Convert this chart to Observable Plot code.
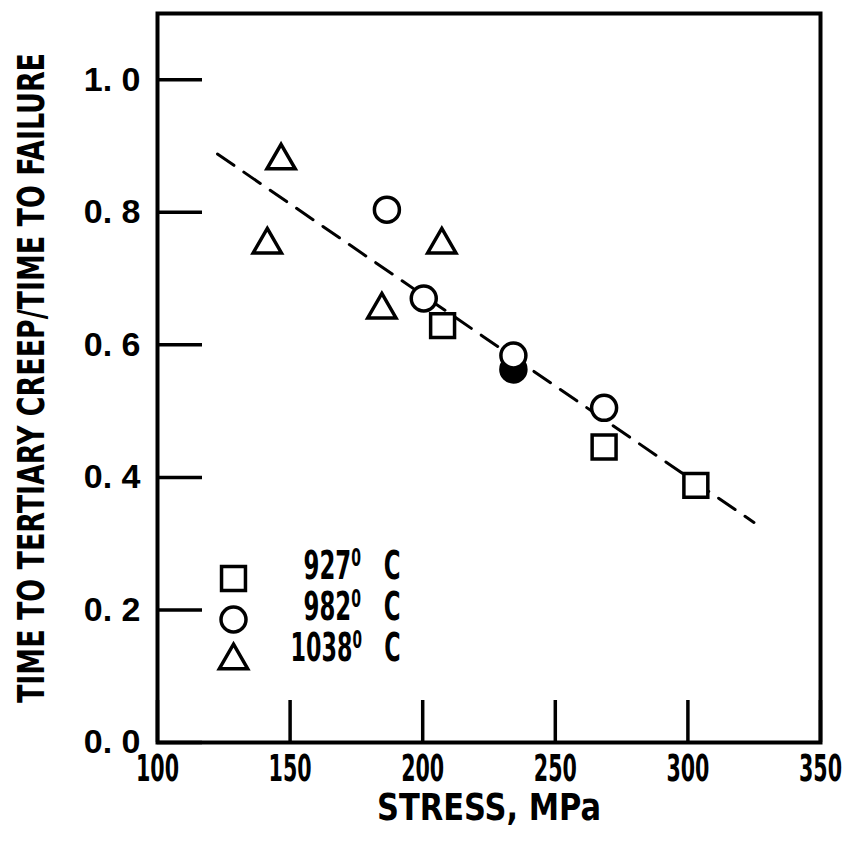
<!DOCTYPE html>
<html>
<head>
<meta charset="utf-8">
<script src="https://cdn.jsdelivr.net/npm/d3@7"></script>
<script src="https://cdn.jsdelivr.net/npm/@observablehq/plot@0.6"></script>
<style>
  html, body { margin: 0; padding: 0; background: #fff; overflow: hidden; }
</style>
</head>
<body>
<div id="chart"></div>
<script>
// ---- data ----
const xTicks = [100, 150, 200, 250, 300, 350];
const yTicks = [0, 0.2, 0.4, 0.6, 0.8, 1.0];
const xTitle = "STRESS, MPa";
const yTitle = "TIME TO TERTIARY CREEP/TIME TO FAILURE";

// 927 C (squares)
const stress927 = [207.5, 268.4, 303.0];
const ratio927  = [0.629, 0.446, 0.388];
// 982 C (circles)
const stress982 = [186.5, 200.4, 234.2, 268.4];
const ratio982  = [0.804, 0.670, 0.584, 0.505];
// 982 C overlapping (dark) circle
const stress982b = [234.2];
const ratio982b  = [0.563];
// 1038 C (triangles)
const stress1038 = [141.4, 146.6, 184.6, 207.2];
const ratio1038  = [0.751, 0.878, 0.653, 0.751];
// dashed trend line end points
const fitStress = [122.6, 324.9];
const fitRatio  = [0.888, 0.332];

const legendTemps   = ["927", "982", "1038"];
const legendLabels  = legendTemps.map(t => t + "\u2070\u2003C");
const legendSymbols = ["square", "circle", "triangle"];

// ---- build rows ----
const rows = (xs, ys) => xs.map((x, i) => ({stress: x, ratio: ys[i]}));

const FONT = "'Liberation Sans Narrow', 'DejaVu Sans Condensed', 'Liberation Sans', sans-serif";
const symR = {square: 13.5, circle: 12.5, triangle: 10.5};
const SW = 3.5;

const legendMarks = [];
legendLabels.forEach((lab, i) => {
  legendMarks.push(Plot.dot([lab], {
    frameAnchor: "bottom-left", dx: 76, dy: -164 + 41 * i,
    symbol: legendSymbols[i], r: symR[legendSymbols[i]],
    stroke: "black", strokeWidth: SW, fill: "none"
  }));
  legendMarks.push(Plot.text([lab], {
    frameAnchor: "bottom-left", dx: 243, dy: -164 + 41 * i,
    textAnchor: "end", fontSize: 39, fontWeight: "bold", fontFamily: FONT,
    fill: "black"
  }));
});

const svg = Plot.plot({
  width: 844,
  height: 842,
  marginLeft: 157,
  marginRight: 24,
  marginTop: 13,
  marginBottom: 100,
  style: {background: "white", color: "black", fontFamily: FONT},
  x: {domain: [100, 350]},
  y: {domain: [0, 1.1]},
  marks: [
    // inward tick marks
    Plot.tickX(xTicks, {x: d => d, stroke: "black", strokeWidth: SW, insetTop: 729 - 42}),
    Plot.tickY(yTicks, {y: d => d, stroke: "black", strokeWidth: SW, insetRight: 663 - 45}),
    // tick labels
    Plot.axisX(xTicks, {tickSize: 0, tickPadding: 12, fontSize: 37, fontWeight: "bold",
      fontFamily: FONT, label: null, fill: "black"}),
    Plot.axisY(yTicks, {tickSize: 0, tickPadding: 17, fontSize: 34, fontWeight: "bold",
      fontFamily: "'Liberation Sans', Arial, sans-serif", label: null, fill: "black",
      tickFormat: d => d.toFixed(1).replace(".", ". ")}),
    // axis titles
    Plot.text([xTitle], {frameAnchor: "bottom", dy: 77, fontSize: 37, fontWeight: "bold",
      fontFamily: FONT, fill: "black"}),
    Plot.text([yTitle], {frameAnchor: "left", dx: -126, dy: 325, rotate: -90, textAnchor: "start",
      fontSize: 38, fontWeight: "bold", fontFamily: FONT, fill: "black"}),
    // trend line
    Plot.line(rows(fitStress, fitRatio), {x: "stress", y: "ratio", stroke: "black",
      strokeWidth: 3, strokeDasharray: "20,12"}),
    // data
    Plot.dot(rows(stress1038, ratio1038), {x: "stress", y: "ratio", symbol: "triangle",
      r: symR.triangle, stroke: "black", strokeWidth: SW, fill: "white"}),
    Plot.dot(rows(stress927, ratio927), {x: "stress", y: "ratio", symbol: "square",
      r: symR.square, stroke: "black", strokeWidth: SW, fill: "white"}),
    Plot.dot(rows(stress982b, ratio982b), {x: "stress", y: "ratio", symbol: "circle",
      r: symR.circle, stroke: "black", strokeWidth: SW, fill: "black"}),
    Plot.dot(rows(stress982, ratio982), {x: "stress", y: "ratio", symbol: "circle",
      r: symR.circle, stroke: "black", strokeWidth: SW, fill: "white"}),
    ...legendMarks,
    Plot.frame({stroke: "black", strokeWidth: 4})
  ]
});

document.getElementById("chart").append(svg);

// condense text to match the narrow typeface of the original
const s = d3.select(svg);
const byText = (str) => s.selectAll("text").filter(function() { return this.textContent === str; });
const squeezeLen = (sel, w) => sel.attr("textLength", w).attr("lengthAdjust", "spacingAndGlyphs");
function squeezeScale(sel, target) {
  sel.each(function() {
    const w = this.getComputedTextLength();
    if (!w) return;
    const f = target / w;
    const x = +(this.getAttribute("x") || 0), y = +(this.getAttribute("y") || 0);
    this.removeAttribute("x"); this.removeAttribute("y");
    const tr = this.getAttribute("transform") || "";
    this.setAttribute("transform", `${tr} translate(${x},${y}) scale(${f},1)`);
  });
}

squeezeLen(s.selectAll('g[aria-label="x-axis tick label"] text'), 43);
squeezeLen(byText(yTitle), 650);
squeezeScale(byText(xTitle), 224);

// legend: real superscript degree zero, then squeeze to width
const legendWidths = [97, 97, 110];
legendLabels.forEach((lab, i) => {
  const sel = byText(lab);
  sel.each(function() {
    const t = d3.select(this);
    t.text(null);
    t.append("tspan").text(legendTemps[i]);
    t.append("tspan").attr("font-size", 24).attr("dy", -13).text("0");
    t.append("tspan").attr("dy", 13).text("\u2003C");
  });
  squeezeScale(sel, legendWidths[i]);
});
</script>
</body>
</html>
